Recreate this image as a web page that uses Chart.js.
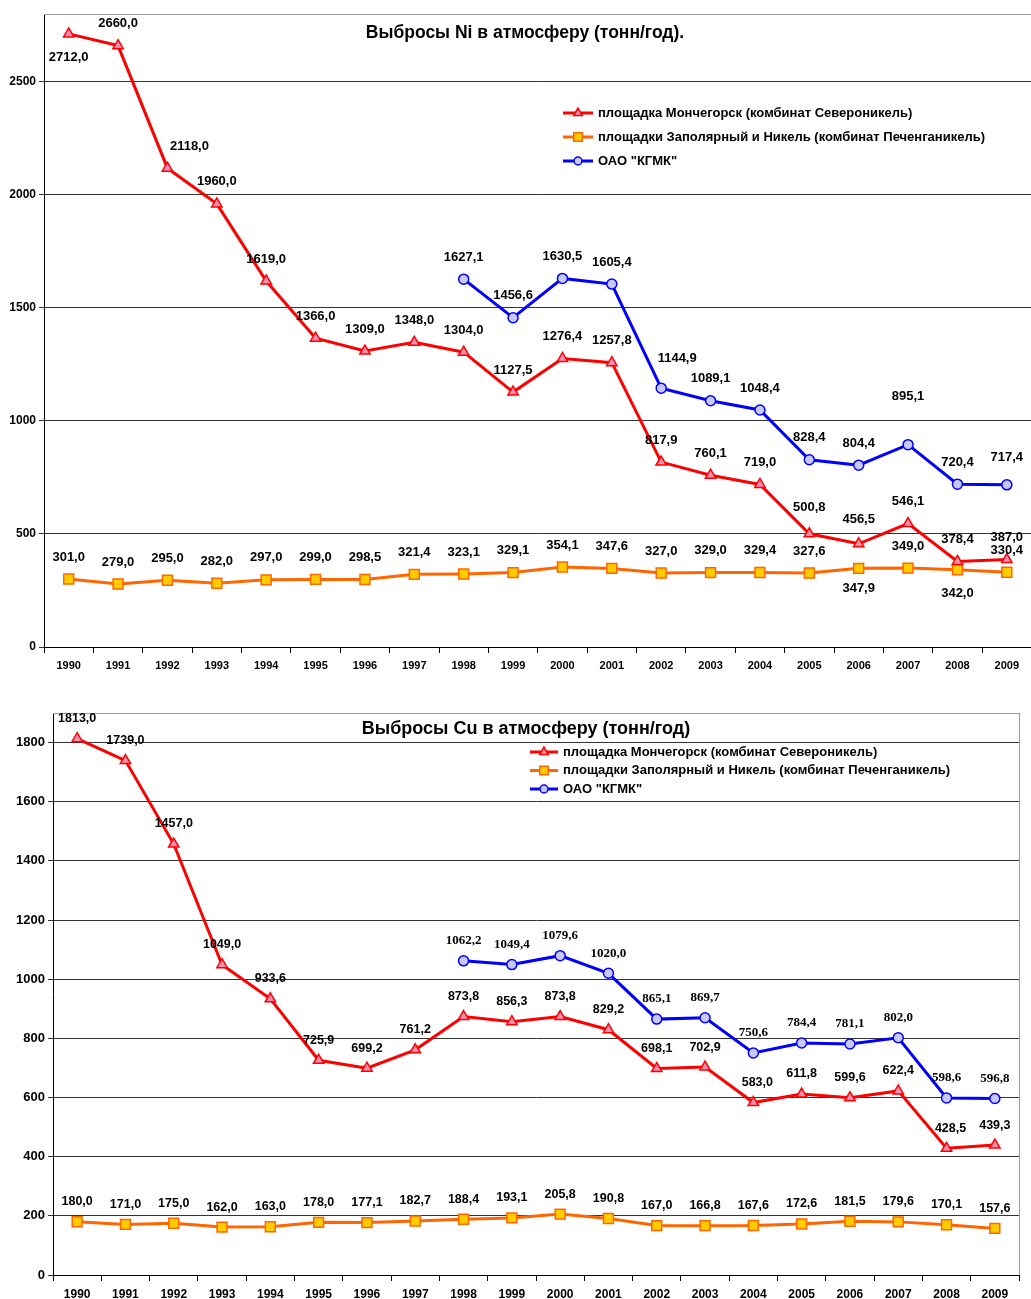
<!DOCTYPE html>
<html lang="ru">
<head>
  <meta charset="utf-8">
  <title>Выбросы Ni и Cu в атмосферу</title>
  <style>
    body { margin: 0; background: #fff; overflow: hidden; }
    #wrap { position: relative; width: 1031px; height: 1299px; overflow: hidden; }
    canvas { position: absolute; left: 0; }
  </style>
</head>
<body>
  <div id="wrap">
    <canvas id="ni" width="1040" height="690" style="top:0"></canvas>
    <canvas id="cu" width="1031" height="609" style="top:690px"></canvas>
  </div>

  <script src="https://cdn.jsdelivr.net/npm/chart.js"></script>
  <script>
    const years = ['1990', '1991', '1992', '1993', '1994', '1995', '1996', '1997', '1998', '1999',
      '2000', '2001', '2002', '2003', '2004', '2005', '2006', '2007', '2008', '2009'];

    const seriesNames = [
      'площадка Мончегорск (комбинат Североникель)',
      'площадки Заполярный и Никель (комбинат Печенганикель)',
      'ОАО "КГМК"'
    ];

    // Ni, тонн/год
    const niMonch = [2712.0, 2660.0, 2118.0, 1960.0, 1619.0, 1366.0, 1309.0, 1348.0, 1304.0, 1127.5,
      1276.4, 1257.8, 817.9, 760.1, 719.0, 500.8, 456.5, 546.1, 378.4, 387.0];
    const niPech = [301.0, 279.0, 295.0, 282.0, 297.0, 299.0, 298.5, 321.4, 323.1, 329.1,
      354.1, 347.6, 327.0, 329.0, 329.4, 327.6, 347.9, 349.0, 342.0, 330.4];
    const niKgmk = [null, null, null, null, null, null, null, null, 1627.1, 1456.6,
      1630.5, 1605.4, 1144.9, 1089.1, 1048.4, 828.4, 804.4, 895.1, 720.4, 717.4];
    const niTicks = [0, 500, 1000, 1500, 2000, 2500];

    // Cu, тонн/год
    const cuMonch = [1813.0, 1739.0, 1457.0, 1049.0, 933.6, 725.9, 699.2, 761.2, 873.8, 856.3,
      873.8, 829.2, 698.1, 702.9, 583.0, 611.8, 599.6, 622.4, 428.5, 439.3];
    const cuPech = [180.0, 171.0, 175.0, 162.0, 163.0, 178.0, 177.1, 182.7, 188.4, 193.1,
      205.8, 190.8, 167.0, 166.8, 167.6, 172.6, 181.5, 179.6, 170.1, 157.6];
    const cuKgmk = [null, null, null, null, null, null, null, null, 1062.2, 1049.4,
      1079.6, 1020.0, 865.1, 869.7, 750.6, 784.4, 781.1, 802.0, 598.6, 596.8];
    const cuTicks = [0, 200, 400, 600, 800, 1000, 1200, 1400, 1600, 1800];

    const FONT = '"Liberation Sans", Arial, sans-serif';

    // label shifts that differ from the default "above the point"
    const niShift = {
      0: { 0: [0, 24], 2: [22, -22], 15: [0, -26], 16: [0, -24] },
      1: { 16: [0, 20], 18: [0, 24] },
      2: { 12: [16, -30], 17: [0, -48], 19: [0, -27] }
    };
    const cuShift = {
      0: { 14: [4, -20], 18: [4, -20] },
      1: {},
      2: {}
    };

    function makeSets(a, b, c, r) {
      return [{
        label: seriesNames[0], data: a,
        borderColor: '#ff0000', backgroundColor: '#ff8fb0', borderWidth: 3,
        pointStyle: 'triangle', pointRadius: r + 1, pointBorderWidth: 1.5, pointBorderColor: '#ff0000'
      }, {
        label: seriesNames[1], data: b,
        borderColor: '#ff6600', backgroundColor: '#ffcc00', borderWidth: 3,
        pointStyle: 'rect', pointRadius: r + 2, pointBorderWidth: 1.5, pointBorderColor: '#ff6600'
      }, {
        label: seriesNames[2], data: c,
        borderColor: '#0000ff', backgroundColor: '#c8c8ff', borderWidth: 3,
        pointStyle: 'circle', pointRadius: r, pointBorderWidth: 1.5, pointBorderColor: '#0000ff'
      }];
    }

    const extras = {
      id: 'extras',
      afterDraw(chart, args, o) {
        const ctx = chart.ctx;
        const a = chart.chartArea;
        ctx.save();

        // frame
        ctx.strokeStyle = '#999';
        ctx.lineWidth = 1;
        ctx.beginPath();
        ctx.moveTo(a.left, a.top + 0.5);
        ctx.lineTo(a.right, a.top + 0.5);
        if (o.rightBorder) {
          ctx.moveTo(a.right + 0.5, a.top);
          ctx.lineTo(a.right + 0.5, a.bottom);
        }
        ctx.stroke();

        // title
        ctx.fillStyle = '#000';
        ctx.font = 'bold ' + o.titleSize + 'px ' + FONT;
        ctx.textAlign = 'center';
        ctx.textBaseline = 'middle';
        ctx.fillText(o.title, o.titleX, o.titleY);

        // value labels
        chart.data.datasets.forEach((ds, i) => {
          const meta = chart.getDatasetMeta(i);
          ctx.font = (i === 2 && o.serifBlue) ? 'bold 13px "Liberation Serif", serif' : 'bold ' + o.labelSize + 'px ' + FONT;
          meta.data.forEach((pt, j) => {
            const v = ds.data[j];
            if (v == null) return;
            const s = (o.shift[i] && o.shift[i][j]) || [0, o.labelDy];
            ctx.fillText(v.toFixed(1).replace('.', ','), pt.x + s[0], pt.y + s[1]);
          });
        });

        // legend
        ctx.textAlign = 'left';
        ctx.font = 'bold ' + o.legendSize + 'px ' + FONT;
        chart.data.datasets.forEach((ds, i) => {
          const y = o.legendY + i * o.legendGap;
          ctx.strokeStyle = ds.borderColor;
          ctx.lineWidth = 3;
          ctx.beginPath();
          ctx.moveTo(o.legendX, y);
          ctx.lineTo(o.legendX + o.legendLen, y);
          ctx.stroke();
          ctx.fillStyle = ds.backgroundColor;
          ctx.strokeStyle = ds.pointBorderColor;
          ctx.lineWidth = 1.5;
          Chart.helpers.drawPoint(ctx, { pointStyle: ds.pointStyle, radius: ds.pointRadius - 1, rotation: 0, borderWidth: 1.5 },
            o.legendX + o.legendLen / 2, y);
          ctx.fillStyle = '#000';
          ctx.fillText(ds.label, o.legendX + o.legendLen + 5, y);
        });
        ctx.restore();
      }
    };

    function makeChart(el, sets, cfg) {
      return new Chart(el, {
        type: 'line',
        data: { labels: years, datasets: sets },
        plugins: [extras],
        options: {
          responsive: false,
          animation: false,
          layout: { padding: { top: cfg.padTop, right: cfg.padRight, left: 0, bottom: 0 } },
          elements: { line: { tension: 0 } },
          plugins: { legend: { display: false }, tooltip: { enabled: false }, extras: cfg.extras },
          scales: {
            x: {
              offset: true,
              grid: { drawOnChartArea: false, drawTicks: true, tickLength: 6, color: '#000', offset: true },
              border: { display: true, color: '#000' },
              ticks: { color: '#000', font: { family: FONT, weight: 'bold', size: cfg.xSize }, padding: 6, maxRotation: 0, autoSkip: false },
              afterFit: s => { s.height = cfg.xHeight; s.paddingLeft = 0; s.paddingRight = 0; }
            },
            y: {
              min: 0, max: cfg.max,
              afterBuildTicks: s => { s.ticks = cfg.ticks.map(v => ({ value: v })); },
              grid: { tickLength: 5, color: '#333' },
              border: { display: true, color: '#000' },
              ticks: {
                padding: 3, color: '#000',
                font: { family: FONT, weight: 'bold', size: cfg.ySize },
                callback: v => String(v)
              },
              afterFit: s => { s.width = cfg.yWidth; s.paddingTop = 0; s.paddingBottom = 0; }
            }
          }
        }
      });
    }

    makeChart(document.getElementById('ni'), makeSets(niMonch, niPech, niKgmk, 5), {
      padTop: 14, padRight: 0, xHeight: 43, yWidth: 44, max: 2800, ticks: niTicks, xSize: 11, ySize: 12,
      extras: {
        title: 'Выбросы Ni в атмосферу (тонн/год).', titleX: 525, titleY: 33, titleSize: 17.5,
        labelSize: 13, labelDy: -22, shift: niShift, serifBlue: false,
        legendX: 563, legendY: 113, legendGap: 24, legendLen: 30, legendSize: 13, rightBorder: false
      }
    });

    makeChart(document.getElementById('cu'), makeSets(cuMonch, cuPech, cuKgmk, 5), {
      padTop: 23, padRight: 12, xHeight: 24, yWidth: 53, max: 1900, ticks: cuTicks, xSize: 12, ySize: 13,
      extras: {
        title: 'Выбросы Cu в атмосферу (тонн/год)', titleX: 526, titleY: 39, titleSize: 18,
        labelSize: 12.5, labelDy: -20, shift: cuShift, serifBlue: true,
        legendX: 530, legendY: 62, legendGap: 18.5, legendLen: 28, legendSize: 13, rightBorder: true
      }
    });
  </script>
</body>
</html>
